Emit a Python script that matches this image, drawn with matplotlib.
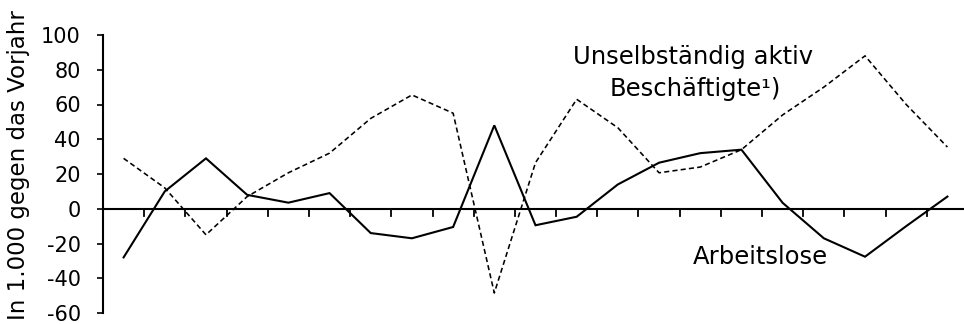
import matplotlib
matplotlib.use("Agg")
import matplotlib.pyplot as plt
import numpy as np

plt.rcParams['font.family'] = ['DejaVu Sans']

# data (in 1,000 change vs previous year)
periods = list(range(1, 22))
arbeitslose = [-28, 10, 29, 8, 3.5, 9, -14, -17, -10.5, 48, -9.5, -4.6, 14, 26.5,
               32, 34, 3.4, -17, -27.6, -10, 7]
beschaeftigte = [29, 12, -15, 7, 20.7, 32, 52, 65.5, 55, -48.5, 26.5, 63, 46.6, 20.7,
                 24, 34, 54, 70, 88, 60, 35.5]
yticks = [-60, -40, -20, 0, 20, 40, 60, 80, 100]

W, H = 964, 324
fig = plt.figure(figsize=(W/100, H/100), dpi=100)
ax = fig.add_axes([103/W, 1 - 313/H, (968 - 103)/W, (313 - 35)/H])

x = np.arange(len(periods)) + 0.5
ax.plot(x, arbeitslose, color='black', lw=1.5, solid_joinstyle='miter')
ax.plot(x, beschaeftigte, color='black', lw=1.15, dashes=(3.2, 2.0))

ax.set_xlim(0, len(periods))
ax.set_ylim(-60, 100)
ax.set_yticks(yticks)
ax.set_yticklabels([str(v) for v in yticks], fontsize=15)
ax.tick_params(axis='y', length=4, width=1.2, pad=12)

for s in ['top', 'right', 'bottom']:
    ax.spines[s].set_visible(False)
ax.spines['left'].set_linewidth(1.5)
ax.set_xticks([])

# zero line with category tick marks hanging below
ax.axhline(0, color='black', lw=1.5)
for k in range(1, len(periods)):
    ax.plot([k, k], [0, -4], color='black', lw=1.3, clip_on=False)

fig.text(19/W, 1 - 165/H, 'In 1.000 gegen das Vorjahr', fontsize=16.5,
         rotation=90, ha='center', va='center')

fig.text(693/W, 1 - 57/H, 'Unselbständig aktiv', fontsize=17.5,
         ha='center', va='center')
fig.text(695/W, 1 - 89/H, 'Beschäftigte¹)', fontsize=17.5,
         ha='center', va='center')
fig.text(760/W, 1 - 257/H, 'Arbeitslose', fontsize=17.5,
         ha='center', va='center')

fig.savefig('out.png', dpi=100)
